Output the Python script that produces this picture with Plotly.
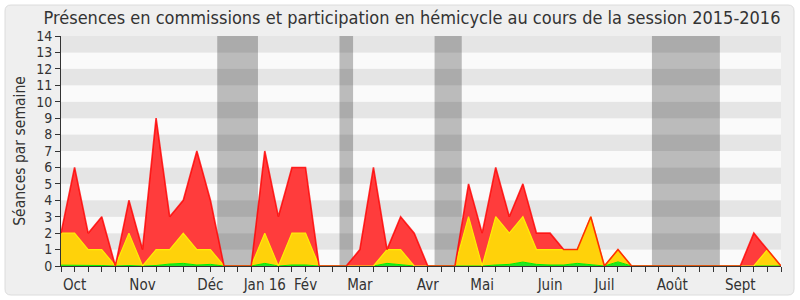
import plotly.graph_objects as go

# ---- data (week index 0..53 of the 2015-2016 session) ----
weeks = list(range(54))

# cumulative levels as drawn (top of each coloured area)
red_total = [2, 6, 2, 3, 0, 4, 1, 9, 3, 4, 7, 4, 0, 0, 0, 7, 3, 6, 6, 0,
             0, 0, 1, 6, 1, 3, 2, 0, 0, 0, 5, 2, 6, 3, 5, 2, 2, 1, 1, 3,
             0, 1, 0, 0, 0, 0, 0, 0, 0, 0, 0, 2, 1, 0]
yellow_level = [2, 2, 1, 1, 0, 2, 0, 1, 1, 2, 1, 1, 0, 0, 0, 2, 0, 2, 2, 0,
                0, 0, 0, 0, 1, 1, 0, 0, 0, 0, 3, 0, 3, 2, 3, 1, 1, 1, 1, 3,
                0, 1, 0, 0, 0, 0, 0, 0, 0, 0, 0, 0, 1, 0]
green_level = [0.05, 0.05, 0.05, 0.03, 0, 0.03, 0, 0.03, 0.12, 0.16, 0.06, 0.1, 0, 0, 0, 0.16, 0, 0.06, 0.06, 0,
               0, 0, 0, 0, 0.16, 0.06, 0, 0, 0, 0, 0.03, 0, 0.06, 0.1, 0.24, 0.1, 0.06, 0.06, 0.16, 0.06,
               0, 0.25, 0, 0, 0, 0, 0, 0, 0, 0, 0, 0, 0.03, 0]

month_weeks = [1, 6, 11, 15, 18, 22, 27, 31, 36, 40, 45, 50]
month_names = ["Oct", "Nov", "Déc", "Jan 16", "Fév", "Mar", "Avr", "Mai", "Juin", "Juil", "Août", "Sept"]

# parliamentary breaks (in week units)
breaks = [(11.5, 14.5), (20.5, 21.5), (27.5, 29.5), (43.5, 48.5)]

FONT = "DejaVu Sans Condensed"
TXT = "#333333"

fig = go.Figure()
fig.add_trace(go.Scatter(x=weeks, y=green_level, mode="lines", fill="tozeroy",
                         line=dict(color="#00ee00", width=1), fillcolor="#22e622",
                         hoverinfo="skip"))
fig.add_trace(go.Scatter(x=weeks, y=yellow_level, mode="lines", fill="tonexty",
                         line=dict(color="#ffee00", width=1.2), fillcolor="#ffd20a",
                         hoverinfo="skip"))
fig.add_trace(go.Scatter(x=weeks, y=red_total, mode="lines", fill="tonexty",
                         line=dict(color="rgba(255,0,0,0.8)", width=1.6),
                         fillcolor="#ff3c3c", hoverinfo="skip"))

shapes = []
# outer rounded frame (paper coords relative to plot area)
L, R, T, B = 61, 781, 36, 266
def px(x):
    return (x - L) / (R - L)
def py(y):
    return (B - y) / (B - T)
x0, x1, y0, y1 = px(5), px(794), py(295), py(5)
rx, ry = 6 / (R - L), 6 / (B - T)
path = (f"M {x0+rx},{y0} L {x1-rx},{y0} Q {x1},{y0} {x1},{y0+ry} "
        f"L {x1},{y1-ry} Q {x1},{y1} {x1-rx},{y1} L {x0+rx},{y1} "
        f"Q {x0},{y1} {x0},{y1-ry} L {x0},{y0+ry} Q {x0},{y0} {x0+rx},{y0} Z")
shapes.append(dict(type="path", xref="paper", yref="paper", path=path,
                   fillcolor="#efefef", line=dict(color="#dcdcdc", width=1), layer="below"))
# horizontal stripes
for k in range(14):
    shapes.append(dict(type="rect", xref="paper", yref="y", x0=0, x1=1, y0=k, y1=k + 1,
                       fillcolor="#e5e5e5" if k % 2 else "#fafafa", line=dict(width=0),
                       layer="below"))
# breaks
for a, b in breaks:
    shapes.append(dict(type="rect", xref="x", yref="y", x0=a, x1=b, y0=0, y1=14,
                       fillcolor="rgba(0,0,0,0.25)", line=dict(width=0), layer="below"))

ticktext = []
for w in weeks:
    ticktext.append(month_names[month_weeks.index(w)] if w in month_weeks else "")

fig.update_layout(
    width=800, height=300,
    margin=dict(l=L, r=800 - R, t=T, b=300 - B, autoexpand=False),
    paper_bgcolor="white", plot_bgcolor="#fafafa",
    showlegend=False,
    shapes=shapes,
    font=dict(family=FONT, size=14, color=TXT),
    title=dict(text="Présences en commissions et participation en hémicycle au cours de la session 2015-2016",
               x=412 / 800, xanchor="center", y=1 - 18 / 300, yanchor="middle",
               font=dict(family=FONT, size=18, color=TXT)),
    xaxis=dict(range=[0, 53], tickmode="array", tickvals=weeks, ticktext=ticktext,
               ticks="outside", ticklen=5, tickcolor="#333", showgrid=False, zeroline=False,
               showline=True, linecolor="#333", linewidth=1, automargin=False,
               tickfont=dict(family=FONT, size=15, color=TXT)),
    yaxis=dict(range=[0, 14], dtick=1, ticks="outside", ticklen=5, tickcolor="#333",
               showgrid=False, zeroline=False, showline=True, linecolor="#333", linewidth=1,
               automargin=False,
               tickfont=dict(family=FONT, size=14, color=TXT),
               title=dict(text="Séances par semaine", font=dict(family=FONT, size=15.5, color=TXT),
                          standoff=6)),
)

fig.write_html("out.html")
